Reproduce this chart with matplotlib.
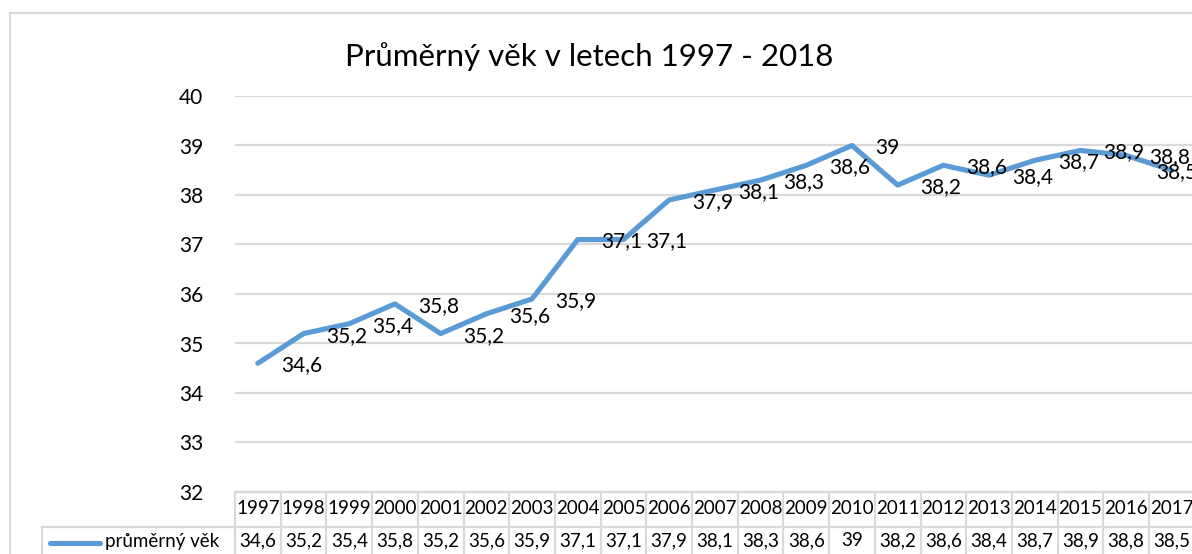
import matplotlib
matplotlib.use("Agg")
import matplotlib.pyplot as plt
from matplotlib.lines import Line2D

plt.rcParams['font.family'] = ['Lato', 'DejaVu Sans']

years = ["1997", "1998", "1999", "2000", "2001", "2002", "2003", "2004", "2005",
         "2006", "2007", "2008", "2009", "2010", "2011", "2012", "2013", "2014",
         "2015", "2016", "2017"]
prumerny_vek = [34.6, 35.2, 35.4, 35.8, 35.2, 35.6, 35.9, 37.1, 37.1, 37.9, 38.1,
                38.3, 38.6, 39.0, 38.2, 38.6, 38.4, 38.7, 38.9, 38.8, 38.5]
series_name = "průměrný věk"
title = "Průměrný věk v letech 1997 - 2018"
y_ticks = [32, 33, 34, 35, 36, 37, 38, 39, 40]
n_columns = 22  # 1997 - 2018, the last column is cut off by the image edge

W, H = 1192, 554
fig = plt.figure(figsize=(W / 100, H / 100), dpi=100)

def fx(px):
    return px / W

def fy(py):
    return 1 - py / H

col_w = 45.7
left_px, top_px, bottom_px = 235, 96, 492
ax = fig.add_axes([fx(left_px), fy(bottom_px), n_columns * col_w / W, (bottom_px - top_px) / H])

blue = "#5B9BD5"
grid_c = "#D9D9D9"
x = list(range(len(prumerny_vek)))
ax.plot(x, prumerny_vek, color=blue, lw=3.7, solid_capstyle='round', solid_joinstyle='round', zorder=3)

def fmt(v):
    return f"{v:g}".replace('.', ',')

for xi, v in zip(x, prumerny_vek):
    last = xi == len(prumerny_vek) - 1
    # Excel keeps the last label inside the chart area, so it is pushed left
    ax.annotate(fmt(v), (xi, v), xytext=(25 if last else 23, -2), textcoords='offset pixels',
                ha='right' if last else 'left', va='center', fontsize=15, color='black', zorder=4,
                annotation_clip=False)

ax.set_xlim(-0.5, n_columns - 0.5)
ax.set_ylim(32, 40)
ax.set_yticks(y_ticks)
ax.set_yticklabels([str(t) for t in y_ticks])
ax.tick_params(axis='y', length=0, pad=23, labelsize=15)
ax.set_xticks([])
for s in ax.spines.values():
    s.set_visible(False)
ax.grid(axis='y', color=grid_c, lw=1.6)
ax.set_axisbelow(True)

# data table
xt = ax.get_xaxis_transform()
row_h = 35 / (bottom_px - top_px)
for i in range(n_columns + 1):
    ax.add_line(Line2D([i - 0.5, i - 0.5], [0, -3 * row_h], transform=xt,
                       color=grid_c, lw=1.6, clip_on=False))
ax.add_line(Line2D([-0.5, n_columns - 0.5], [0, 0], transform=xt, color=grid_c, lw=1.6, clip_on=False))
ax.add_line(Line2D([-0.5, n_columns - 0.5], [-row_h, -row_h], transform=xt, color=grid_c, lw=1.6, clip_on=False))
for xi, yr in enumerate(years):
    ax.text(xi, -0.5 * row_h + 0.002, yr, transform=xt, ha='center', va='center', fontsize=13.5, clip_on=False)
for xi, v in zip(x, prumerny_vek):
    ax.text(xi, -1.5 * row_h + 0.01, fmt(v), transform=xt, ha='center', va='center', fontsize=13.5, clip_on=False)

# legend cell
fig.add_artist(Line2D([fx(42), fx(left_px)], [fy(527), fy(527)], color=grid_c, lw=1.6))
fig.add_artist(Line2D([fx(42), fx(42)], [fy(527), fy(560)], color=grid_c, lw=1.6))
fig.add_artist(Line2D([fx(50), fx(100)], [fy(543), fy(543)], color=blue, lw=3.7, solid_capstyle='round'))
fig.text(fx(105), fy(542), series_name, ha='left', va='center', fontsize=13.5)

# chart border
fig.add_artist(Line2D([fx(10), fx(10)], [fy(13), fy(560)], color=grid_c, lw=1.5))
fig.add_artist(Line2D([fx(10), fx(1200)], [fy(13), fy(13)], color=grid_c, lw=1.5))

fig.text(fx(589), fy(57), title, ha='center', va='center', fontsize=22.5)

fig.savefig("out.png", dpi=100)
